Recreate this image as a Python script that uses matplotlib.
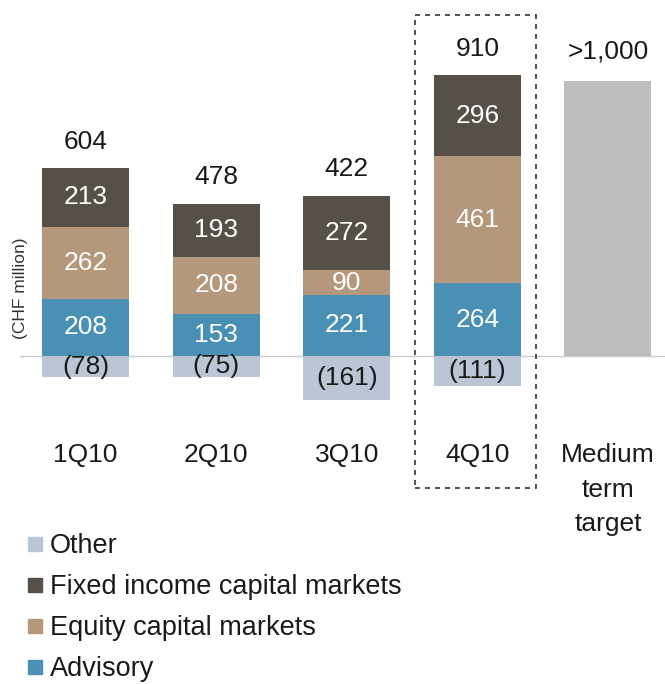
import matplotlib.pyplot as plt
from matplotlib.patches import Rectangle
from matplotlib.lines import Line2D

plt.rcParams['font.family'] = ['Liberation Sans', 'DejaVu Sans']

quarters = ['1Q10', '2Q10', '3Q10', '4Q10']
advisory = [208, 153, 221, 264]
equity = [262, 208, 90, 461]
fixed_income = [213, 193, 272, 296]
other = [-78, -75, -161, -111]
totals = ['604', '478', '422', '910']
target_value = 1000
target_label = '>1,000'

c_adv = '#4a8fb4'
c_eq = '#b5987c'
c_fi = '#575048'
c_oth = '#bac6d5'
c_tgt = '#bdbdbd'
txt = '#1a1a1a'

fig = plt.figure(figsize=(6.65, 6.84), dpi=100)
ax = fig.add_axes([0, 0, 1, 1])
ax.set_xlim(-0.655, 4.437)
ax.set_ylim(-1193, 1294)
ax.axis('off')

x = list(range(len(quarters)))
w = 0.666
ax.axhline(0, xmin=0.03, xmax=1, color='#cccccc', lw=1, zorder=1)

ax.bar(x, advisory, w, color=c_adv, zorder=2)
ax.bar(x, equity, w, bottom=advisory, color=c_eq, zorder=2)
b2 = [a + e for a, e in zip(advisory, equity)]
ax.bar(x, fixed_income, w, bottom=b2, color=c_fi, zorder=2)
ax.bar(x, other, w, color=c_oth, zorder=2)
ax.bar(4, target_value, w, color=c_tgt, zorder=2)

fs = 19
for i in x:
    ax.text(i, advisory[i] / 2, str(advisory[i]), ha='center', va='center', color='white', fontsize=fs)
    ax.text(i, advisory[i] + equity[i] / 2, str(equity[i]), ha='center', va='center', color='white', fontsize=fs)
    ax.text(i, b2[i] + fixed_income[i] / 2, str(fixed_income[i]), ha='center', va='center', color='white', fontsize=fs)
    ax.text(i, other[i] / 2, '(%d)' % -other[i], ha='center', va='center', color=txt, fontsize=fs)
    top = b2[i] + fixed_income[i]
    ax.annotate(totals[i], (i, top), xytext=(0, 19), textcoords='offset points',
                ha='center', va='center', color=txt, fontsize=fs)
    ax.text(i, -360, quarters[i], ha='center', va='center', color=txt, fontsize=fs)

ax.annotate(target_label, (4, target_value), xytext=(0, 21), textcoords='offset points',
            ha='center', va='center', color=txt, fontsize=fs)
ax.text(4, -318, 'Medium\nterm\ntarget', ha='center', va='top', color=txt, fontsize=fs,
        linespacing=1.55)

# dashed box around 4Q10
ax.add_patch(Rectangle((2.523, -480), 3.449 - 2.523, 1240 + 480, fill=False,
                       ec='#333333', lw=1.2, ls=(0, (3, 3)), zorder=3))

fig.text(0.031, 0.578, '(CHF million)', rotation=90, ha='center', va='center',
         fontsize=12.5, color='#333333')

labels = ['Other', 'Fixed income capital markets', 'Equity capital markets', 'Advisory']
cols = [c_oth, c_fi, c_eq, c_adv]
handles = [Line2D([], [], marker='s', ls='', markersize=10, color=c) for c in cols]
fig.legend(handles, labels, loc='upper left', bbox_to_anchor=(0.022, 0.24),
           frameon=False, fontsize=19.5, handlelength=0.5, handletextpad=0.3,
           labelspacing=0.55, borderpad=0, labelcolor=txt)

fig.savefig('out.png', dpi=100)
